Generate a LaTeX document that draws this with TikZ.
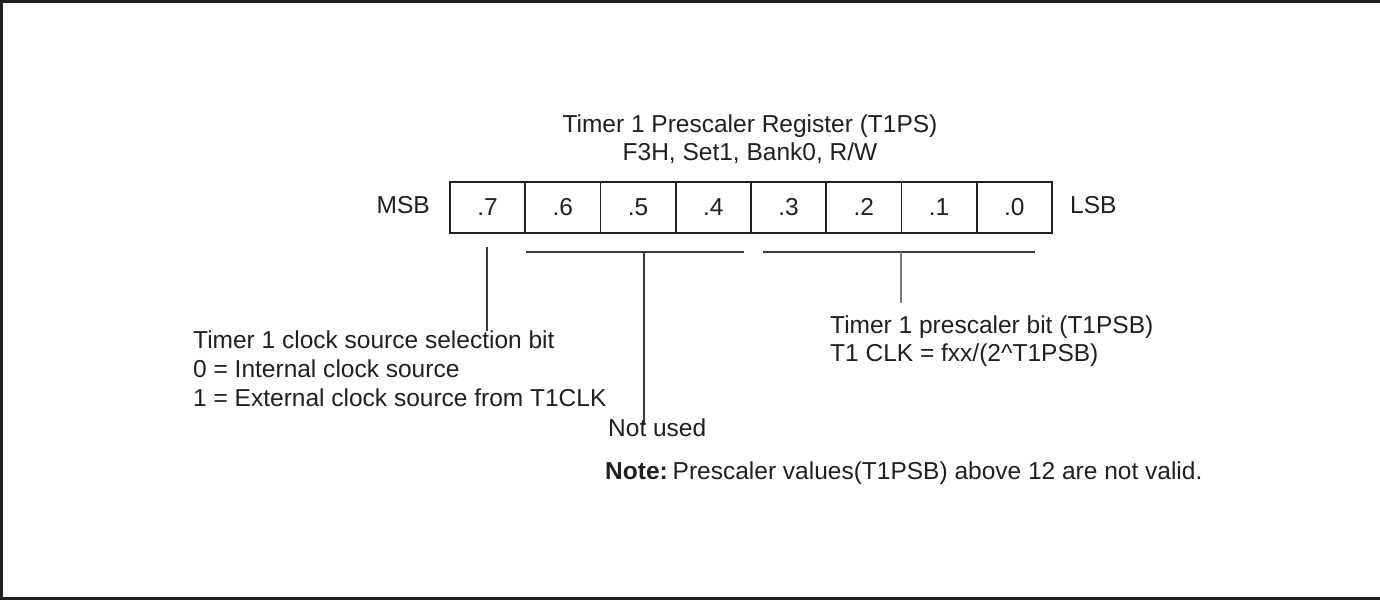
\documentclass[tikz,border=0pt]{standalone}
\usepackage{fontspec}
\setmainfont{Liberation Sans}
\definecolor{ink}{HTML}{231F20}
\definecolor{leadc}{HTML}{3A3A3A}
\begin{document}
\begin{tikzpicture}[x=1pt,y=-1pt,
  txt/.style={font=\fontsize{24.5}{29}\selectfont, text=ink, inner sep=0pt},
  cellbox/.style={draw=ink, line width=1.8pt, minimum width=75.25pt, minimum height=51pt,
    inner sep=0pt, anchor=north west, font=\fontsize{24.5}{29}\selectfont, text=ink},
  leader/.style={draw=leadc, line width=1.2pt}]
\useasboundingbox (0,0) rectangle (1380,600);
\begin{scope}
\clip (0,0) rectangle (1380,600);
\draw[ink, line width=2.4pt] (1.6,1.4) rectangle (1390,598.6);
\end{scope}

% title
\node[txt, anchor=base] (title1) at (750,132) {Timer 1 Prescaler Register (T1PS)};
\node[txt, anchor=base] (title2) at (750,160) {F3H, Set1, Bank0, R/W};

% register
\node[txt, anchor=base east] (msb) at (430,213) {MSB};
\foreach \i in {0,...,7}{
  \pgfmathtruncatemacro{\b}{7-\i}
  \node[cellbox] (c\b) at ({449+75.25*\i},181) {.\b};
}
\node[txt, anchor=base west] (lsb) at (1070,213) {LSB};

% leader coordinates
\coordinate (b7a) at (487,247);
\coordinate (b7b) at (487,331);
\coordinate (l1) at (526,252);
\coordinate (l2) at (744,252);
\coordinate (lm) at (644,252);
\coordinate (lb) at (644,425);
\coordinate (r1) at (763,252);
\coordinate (r2) at (1035,252);
\coordinate (rm) at (901,252);
\coordinate (rb) at (901,303);

\draw[leader] (b7a) -- (b7b);
\draw[leader] (l1) -- (l2);
\draw[leader] (lm) -- (lb);
\draw[leader] (r1) -- (r2);
\draw[leader, draw=ink!60] (rm) -- (rb);

% texts
\node[txt, anchor=base west] (sel1) at (193,348) {Timer 1 clock source selection bit};
\node[txt, anchor=base west] (sel2) at (193,377) {0 = Internal clock source};
\node[txt, anchor=base west] (sel3) at (193,406) {1 = External clock source from T1CLK};
\node[txt, anchor=base west] (ps1) at (830,333) {Timer 1 prescaler bit (T1PSB)};
\node[txt, anchor=base west] (ps2) at (830,361) {T1 CLK = fxx/(2\string^T1PSB)};
\node[txt, anchor=base west] (nu) at (608,436) {Not used};
\node[txt, anchor=base west] (note) at (605,479) {\textbf{Note:}\kern0.2em Prescaler values(T1PSB) above 12 are not valid.};
\end{tikzpicture}
\end{document}
